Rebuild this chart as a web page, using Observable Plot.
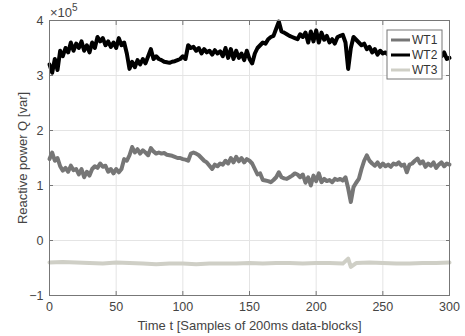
<!DOCTYPE html>
<html><head><meta charset="utf-8">
<script src="https://cdn.jsdelivr.net/npm/d3@7"></script>
<script src="https://cdn.jsdelivr.net/npm/@observablehq/plot@0.6"></script>
<style>body{margin:0;background:#fff} #chart{width:465px;height:336px}</style>
</head><body><div id="chart"></div>
<script>
const seriesNames = ["WT1", "WT2", "WT3"];
const seriesColors = ["#767676", "#000000", "#cfcfc6"];
const xTicks = [0, 50, 100, 150, 200, 250, 300];
const yTicks = [-1, 0, 1, 2, 3, 4];
const xLabel = "Time t [Samples of 200ms data-blocks]";
const yLabel = "Reactive power Q [var]";

// sample index for WT1 / WT2 (every 2nd sample)
const t12 = d3.range(0, 301, 2);
// values in units of 10^5 var
const wt1 = [1.48,1.6,1.45,1.5,1.35,1.27,1.32,1.25,1.36,1.28,1.3,1.2,1.3,1.15,1.25,1.18,1.3,1.35,1.32,1.4,
1.34,1.36,1.25,1.3,1.22,1.3,1.24,1.3,1.48,1.45,1.55,1.7,1.6,1.66,1.58,1.64,1.6,1.55,1.68,1.62,
1.58,1.6,1.58,1.59,1.56,1.55,1.54,1.52,1.5,1.5,1.48,1.47,1.45,1.58,1.6,1.58,1.55,1.5,1.45,1.42,
1.36,1.3,1.38,1.35,1.4,1.38,1.45,1.4,1.5,1.42,1.52,1.44,1.5,1.42,1.48,1.45,1.4,1.3,1.2,1.22,
1.1,1.09,1.08,1.06,1.1,1.15,1.24,1.15,1.13,1.12,1.15,1.18,1.22,1.2,1.15,1.2,1.05,1.15,1.0,1.18,
1.08,1.22,1.06,1.12,1.08,1.1,1.06,1.12,1.1,1.12,1.09,1.15,0.95,0.7,0.97,1.05,1.12,1.3,1.45,1.55,
1.45,1.4,1.36,1.42,1.34,1.4,1.35,1.38,1.34,1.4,1.38,1.42,1.36,1.38,1.24,1.38,1.4,1.45,1.49,1.4,
1.44,1.34,1.4,1.36,1.42,1.32,1.38,1.42,1.35,1.4,1.38];
const wt2 = [3.2,3.05,3.3,3.1,3.45,3.35,3.5,3.42,3.6,3.45,3.58,3.5,3.62,3.45,3.55,3.42,3.6,3.5,3.7,3.62,
3.68,3.55,3.62,3.52,3.6,3.5,3.68,3.55,3.6,3.4,3.12,3.25,3.15,3.28,3.2,3.3,3.22,3.35,3.48,3.3,
3.35,3.3,3.28,3.25,3.24,3.23,3.25,3.26,3.28,3.3,3.35,3.3,3.55,3.5,3.52,3.45,3.5,3.4,3.48,3.42,
3.45,3.38,3.46,3.4,3.44,3.35,3.5,3.32,3.48,3.3,3.45,3.32,3.4,3.28,3.45,3.3,3.22,3.4,3.5,3.55,
3.6,3.58,3.66,3.7,3.72,3.85,3.98,3.8,3.78,3.75,3.72,3.7,3.68,3.66,3.75,3.7,3.78,3.6,3.8,3.62,
3.82,3.6,3.78,3.65,3.72,3.6,3.66,3.58,3.7,3.72,3.74,3.6,3.12,3.5,3.7,3.65,3.6,3.55,3.58,3.48,
3.52,3.42,3.48,3.38,3.45,3.4,3.42,3.38,3.42,3.36,3.4,3.35,3.42,3.38,3.4,3.36,3.42,3.35,3.4,3.38,
3.42,3.36,3.4,3.35,3.42,3.38,3.44,3.35,3.42,3.3,3.32];
const t3 = [0,10,20,30,40,50,60,70,80,90,100,110,120,130,140,150,160,170,180,190,200,210,220,224,226,230,240,250,260,270,280,290,300];
const wt3 = [-0.40,-0.39,-0.40,-0.41,-0.42,-0.40,-0.41,-0.42,-0.43,-0.42,-0.42,-0.43,-0.42,-0.42,-0.42,-0.41,-0.42,-0.41,-0.41,-0.42,-0.41,-0.41,-0.42,-0.33,-0.48,-0.41,-0.40,-0.41,-0.42,-0.42,-0.41,-0.41,-0.40];

const rows = [];
t12.forEach((t, i) => rows.push({t, v: wt1[i], s: "WT1"}));
t12.forEach((t, i) => rows.push({t, v: wt2[i], s: "WT2"}));
t3.forEach((t, i) => rows.push({t, v: wt3[i], s: "WT3"}));

const font = "'Liberation Sans', Arial, sans-serif";
const plot = Plot.plot({
  width: 465, height: 336,
  marginLeft: 49, marginRight: 16, marginTop: 20, marginBottom: 41,
  style: {fontFamily: font, fontSize: "13px", color: "#444", background: "#fff"},
  x: {domain: [0, 300], ticks: xTicks},
  y: {domain: [-1, 4], ticks: yTicks},
  color: {domain: seriesNames, range: seriesColors},
  marks: [
    Plot.gridX(xTicks, {stroke: "#e4e4e4", strokeOpacity: 1}),
    Plot.gridY(yTicks, {stroke: "#e4e4e4", strokeOpacity: 1}),
    Plot.line(rows, {x: "t", y: "v", z: "s", stroke: "s", strokeWidth: 4, strokeLinejoin: "round"}),
    Plot.frame({stroke: "#777"}),
    Plot.axisX(xTicks, {anchor: "bottom", tickSize: -4, tickPadding: 11, stroke: "#777", fill: "#444",
      fontSize: 12.5, tickFormat: d3.format("d"), label: null}),
    Plot.axisX({anchor: "bottom", ticks: [], tickSize: 0,
      label: xLabel, labelAnchor: "center", labelArrow: "none", labelOffset: 34}),
    Plot.axisX(xTicks, {anchor: "top", tickSize: -4, stroke: "#777", tickFormat: () => "", label: null}),
    Plot.axisY(yTicks, {anchor: "left", tickSize: -4, tickPadding: 10, stroke: "#777", fill: "#444",
      fontSize: 12.5, tickFormat: d3.format("d"), label: null}),
    Plot.axisY({anchor: "left", ticks: [], tickSize: 0,
      label: yLabel, labelAnchor: "center", labelArrow: "none", labelOffset: 32}),
    Plot.axisY(yTicks, {anchor: "right", tickSize: -4, stroke: "#777", tickFormat: () => "", label: null})
  ]
});
document.getElementById("chart").appendChild(plot);

const svg = d3.select(plot);
// exponent label
const ex = svg.append("text").attr("x", 50).attr("y", 17).attr("fill", "#444")
  .attr("text-anchor", "start").attr("font-family", font).attr("font-size", 13).text("×10");
ex.append("tspan").attr("dy", -6).attr("font-size", 10).text("5");

// legend
const lg = svg.append("g").attr("text-anchor", "start");
lg.append("rect").attr("x", 387).attr("y", 30).attr("width", 55).attr("height", 49)
  .attr("fill", "#fff").attr("stroke", "#777");
const ly = [40, 55, 70];
seriesNames.forEach((n, i) => {
  lg.append("line").attr("x1", 391).attr("x2", 410).attr("y1", ly[i]).attr("y2", ly[i])
    .attr("stroke", seriesColors[i]).attr("stroke-width", 3);
  lg.append("text").attr("x", 412).attr("y", ly[i] + 4).attr("fill", "#333")
    .attr("font-family", font).attr("font-size", 12).text(n);
});
</script></body></html>
